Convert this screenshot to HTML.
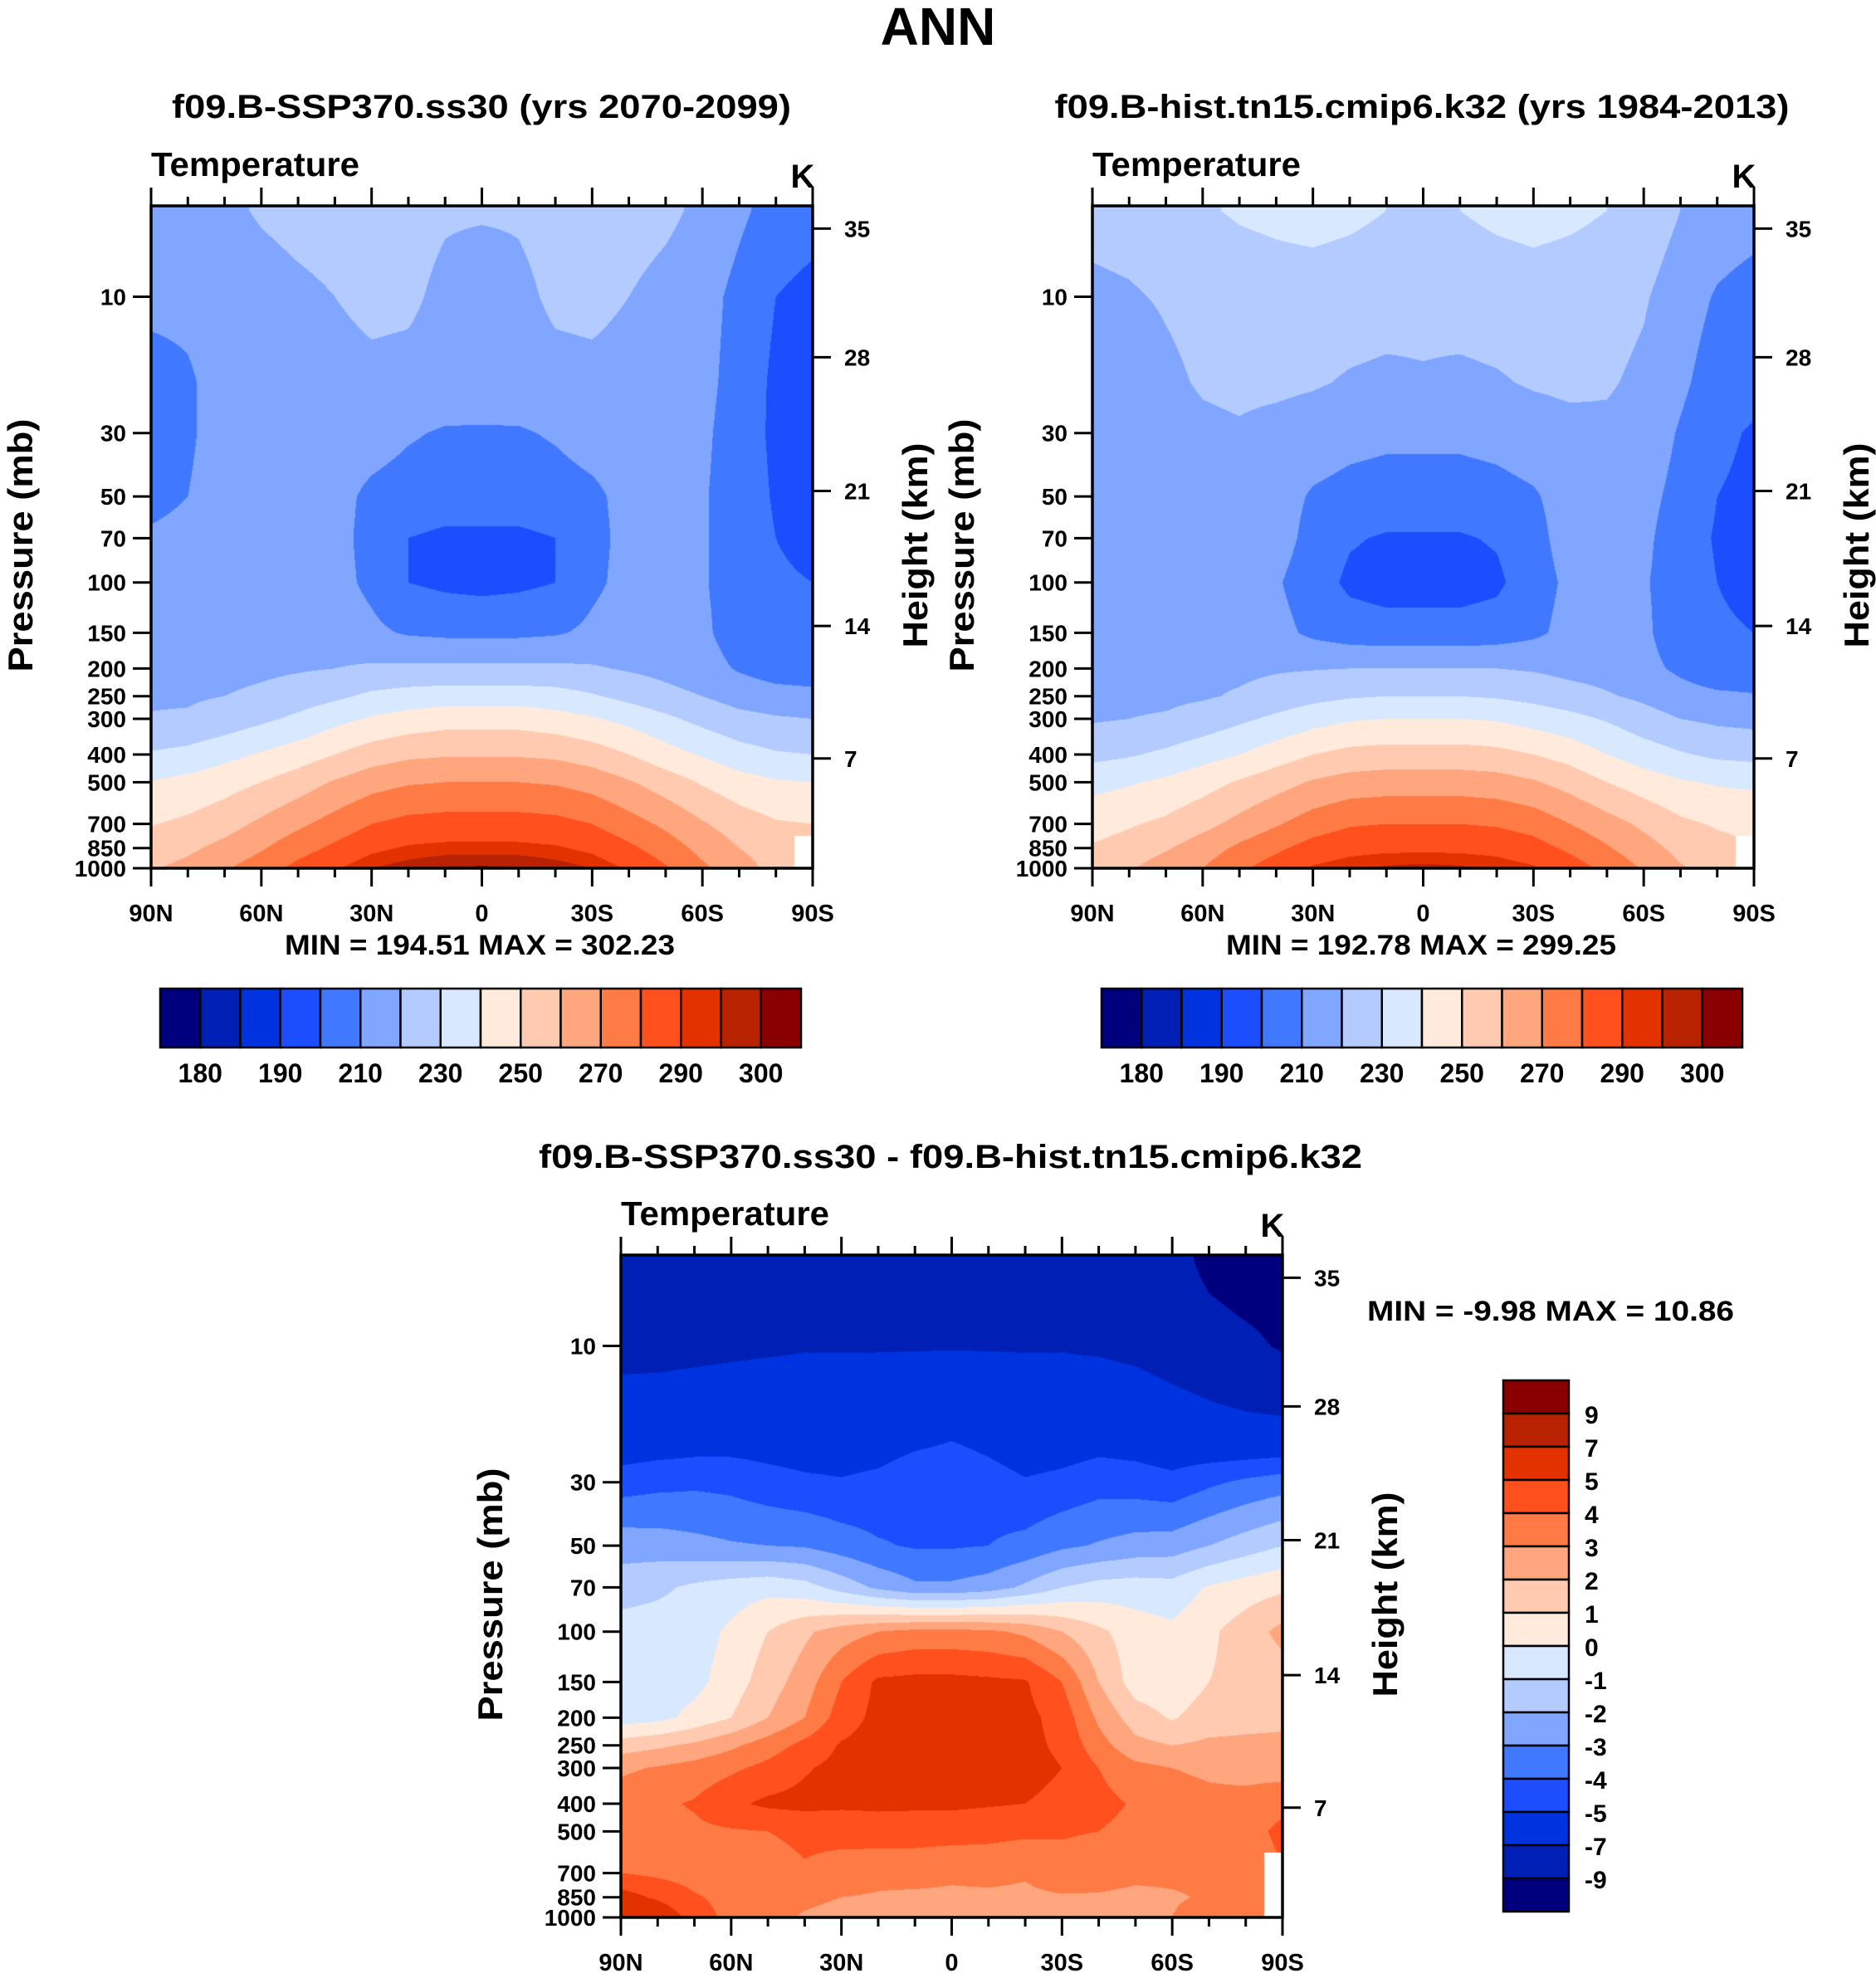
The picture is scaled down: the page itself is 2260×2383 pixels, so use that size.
<!DOCTYPE html>
<html><head><meta charset="utf-8">
<style>
html,body{margin:0;padding:0;background:#fff;}
#root{position:relative;width:2260px;height:2383px;overflow:hidden;}
canvas{position:absolute;}
svg{position:absolute;left:0;top:0;}
text{font-family:"Liberation Sans",Arial,sans-serif;font-weight:bold;fill:#000;}
</style></head>
<body>
<div id="root">
<canvas id="c1"></canvas>
<canvas id="c2"></canvas>
<canvas id="c3"></canvas>
<svg id="s" width="2260" height="2383"></svg>
</div>
<script>
const lats=[90,80,70,60,50,40,30,20,10,0,-10,-20,-30,-40,-50,-60,-70,-80,-90];
const plevs=[5,10,20,30,50,70,100,150,200,250,300,400,500,700,850,1000];
const sspT=[
[215,216,218,221,223,224,224,223,221,221,221,223,224,224,222,218,212,206,204],
[212,212,214,216,218,220,222,221.5,218,215,218,221.5,222,220,217,214,207,200,197],
[207,209,213,215,216,217,218,217.5,216,215,216,217.5,218,217,215,213,206,198,196],
[207,209,213,215,216,215,214,211,209,209,209,211,214,215,215,212,205,198,196],
[208,210,213,215,215,213,208,206,205,205,205,206,208,213,214,211,205,199,197],
[211,212,214,215,215,213,207,200,198,198,198,200,207,213,214,211,205,200,198],
[214,214,215,215,215,213,208,200,198,197,198,200,208,213,214,211,205,201,200],
[216,216,216,216,216,215,212,209,208,208,208,209,212,215,215,212,205,202,201],
[217,217,217,218,219,220,221.5,222,222,222,222,222,221,219,217,214,209,205,204],
[219,219,220,222,225,228,232,234,235,235,235,234,231,227,223,220,216,214,213],
[220.5,221,224,228,232,237,241,244,246,246,246,244,241,237,232,227,223,221,220],
[231,233,237,241,245,250,255,258,259,259,259,258,255,250,244,239,234,231,230],
[240.5,243,246,250,255,261,266,269,270,270,270,269,266,261,255,249,244,241,240],
[249.5,252,256,262,268,274,280,283,284,284,284,283,280,274,268,261,255,251,250],
[254,258,263,269,276,282,288,291,292,292,292,291,288,282,275,267,260,255,null],
[259,263,269,275,283,289,295,298,300.5,301,300.5,298,295,289,281,272,264,257,null]];
const histT=[
[223,224,226,229,231,232,233,232,230,229,230,232,233,232,230,226,220,216,214],
[218,219,221,223,225,226,226,225,224,223,224,225,226,225,224,221,215,209,206],
[212,214,218,221,222,222,221,219,218,219,218,219,221,222,221,218,212,205,203],
[210,212,215,218,219,217,215,213,212,212,212,213,215,217,218,216,209,202,199],
[210,212,215,216,216,214,209,207,206,206,206,207,209,214,216,213,207,200,198],
[212,213,215,216,216,214,207,201,199,199,199,201,207,214,215,212,205,199,197],
[214,214,214,214,214,211,205,198,196,196,196,198,206,212,213,211,205,200,198],
[217,217,216,216,215,213,208,205,204,204,204,205,208,213,215,212,204,201,200],
[218,218,218,218,218,219,219.5,220,220,220,220,220,219,217,216,213,208,203,202],
[218,218,218,219,221,224,227,229,230,230,230,229,227,224,221,218,214,212,211],
[219,220,221,224,228,232,236,239,240,240,240,239,236,233,229,224,220,218,217],
[227,229,232,236,240,245,250,253,254,254,254,253,250,246,240,235,231,228,227],
[237,239,242,246,251,256,261,264,265,265,265,264,261,256,250,245,241,239,238],
[246,249,252,257,263,269,275,279,280,280,280,279,276,270,264,258,252,249,248],
[251,254,259,265,272,278,284,287,288,288,288,287,284,278,271,264,257,253,null],
[255,259,265,270,278,285,291,294,296,297,296,294,291,285,277,269,261,256,null]];
const diffT=[
[-8,-8,-8,-8,-8,-8,-8,-8,-8,-8,-8,-8,-8,-8,-8,-8.3,-9.5,-10,-10],
[-7.5,-7.5,-7.4,-7.3,-7.2,-7.1,-7.1,-7.1,-7.1,-7.1,-7.1,-7.1,-7.1,-7.2,-7.4,-7.8,-8.2,-8.6,-9.2],
[-6,-5.9,-5.8,-5.7,-5.7,-5.8,-5.9,-5.8,-5.5,-5.2,-5.5,-5.9,-5.8,-5.6,-5.7,-6,-6.3,-6.5,-6.5],
[-4.5,-4.3,-4.2,-4.3,-4.6,-4.8,-4.9,-4.7,-4.2,-4.1,-4.5,-4.9,-4.7,-4.4,-4.5,-4.7,-4.2,-3.8,-3.5],
[-2.4,-2.5,-2.7,-2.9,-3.0,-3.1,-3.5,-3.9,-4.1,-4.1,-4.0,-3.7,-3.2,-2.9,-2.6,-2.5,-2.0,-1.5,-1.0],
[-1.5,-1.2,-0.8,-0.5,-0.3,-0.6,-1.4,-2.2,-2.8,-2.8,-2.5,-1.8,-1,-0.6,-0.5,-0.6,0.1,0.5,0.8],
[-0.5,-0.5,-0.5,0.2,1,1.8,2.5,3,3.3,3.3,3.2,2.8,2,1.2,0.5,0.2,0.8,1.5,2.3],
[-0.6,-0.5,-0.3,0.5,1.5,2.5,4,5.2,5.3,5.3,5.2,5.1,4,2,0.5,0.3,1,1.3,1.5],
[-0.5,-0.3,0.3,1,2,3,4.5,5.3,5.5,5.6,5.5,5.3,4.6,2.8,1.5,0.9,1.5,1.7,1.8],
[1.5,1.8,2.2,2.8,3.5,4.3,5.1,5.4,5.5,5.5,5.5,5.3,4.8,3.4,2.3,2,2.2,2.2,2.2],
[2.8,3.1,3.4,3.8,4.3,4.9,5.3,5.4,5.5,5.5,5.5,5.4,5,4,3.3,3,2.8,2.6,2.5],
[3.6,3.8,4.1,4.8,5.2,5.3,5.2,5.2,5.2,5.2,5.1,5,4.7,4.3,3.9,3.5,3.3,3.4,3.8],
[3.6,3.7,3.8,3.9,4,4.2,4.3,4.5,4.4,4.4,4.3,4.2,4.1,4,3.7,3.5,3.4,3.7,4.2],
[4,3.8,3.6,3.5,3.6,3.9,3.6,3.3,3.4,3.2,3.3,3.1,3.6,3.4,3.2,3.2,3.2,3.3,null],
[5.5,4.8,4.1,3.7,3.4,3.2,3,2.9,2.8,2.8,2.8,2.8,2.9,2.9,2.8,2.9,3.1,3.4,null],
[7.3,6,4.5,3.7,3.3,2.9,2.7,2.5,2.4,2.4,2.4,2.3,2.4,2.5,2.5,3,3.5,3.3,null]];
const absLevels=[180,185,190,200,210,220,230,240,250,260,270,280,290,295,300];
const absTickLabels=["180","190","210","230","250","270","290","300"];
const diffLevels=[-9,-7,-5,-4,-3,-2,-1,0,1,2,3,4,5,7,9];
const diffTickLabels=["9","7","5","4","3","2","1","0","-1","-2","-3","-4","-5","-7","-9"];
const presTicks=[10,30,50,70,100,150,200,250,300,400,500,700,850,1000];
const latTicks=[90,60,30,0,-30,-60,-90];
const latTickLabels=["90N","60N","30N","0","30S","60S","90S"];
const heightTicks=[35,28,21,14,7];
const heightFrac=[0.0343,0.2286,0.4305,0.6343,0.8343];
const cols=["#00007f","#0020b5","#0033e0","#1c4eff","#4079ff","#80a6ff","#b3cbff","#d8e9ff","#ffeadb","#ffcab0","#ffa67f","#ff7b46","#ff501e","#e33200","#b82200","#8a0000"];

const lpTop=0.682,lpBot=3;
const W=797,H=798;
function xOf(x0,lat){return x0+(90-lat)/180*W;}
function yOf(y0,p){return y0+(Math.log10(p)-lpTop)/(lpBot-lpTop)*H;}
function hex(c){return [parseInt(c.substr(1,2),16),parseInt(c.substr(3,2),16),parseInt(c.substr(5,2),16)];}
const rgb=cols.map(hex);
const lpl=plevs.map(p=>Math.log10(p));

function drawField(id,x0,y0,grid,levels){
  const cv=document.getElementById(id);
  cv.width=W;cv.height=H;cv.style.left=x0+'px';cv.style.top=y0+'px';
  const ctx=cv.getContext('2d');
  const img=ctx.createImageData(W,H);
  for(let py=0;py<H;py++){
    const lp=lpTop+(py+0.5)/H*(lpBot-lpTop);
    let i=0;while(i<lpl.length-2&&lp>lpl[i+1])i++;
    let fy=(lp-lpl[i])/(lpl[i+1]-lpl[i]);fy=Math.max(0,Math.min(1,fy));
    for(let px=0;px<W;px++){
      const c=(px+0.5)/W*(lats.length-1);
      let j=Math.min(Math.floor(c),lats.length-2);const fx=c-j;
      const corners=[[grid[i][j],(1-fx)*(1-fy)],[grid[i][j+1],fx*(1-fy)],[grid[i+1][j],(1-fx)*fy],[grid[i+1][j+1],fx*fy]];
      let near=corners[0];for(const k of corners)if(k[1]>near[1])near=k;
      const o=(py*W+px)*4;
      if(near[0]===null){img.data[o]=255;img.data[o+1]=255;img.data[o+2]=255;img.data[o+3]=255;continue;}
      let s=0,ws=0;for(const k of corners)if(k[0]!==null){s+=k[0]*k[1];ws+=k[1];}
      const v=s/ws;let idx=0;while(idx<levels.length&&v>=levels[idx])idx++;
      const col=rgb[idx];
      img.data[o]=col[0];img.data[o+1]=col[1];img.data[o+2]=col[2];img.data[o+3]=255;
    }
  }
  ctx.putImageData(img,0,0);
}
const NS="http://www.w3.org/2000/svg";
const svg=document.getElementById('s');
function el(tag,attrs,parent){const e=document.createElementNS(NS,tag);for(const k in attrs)e.setAttribute(k,attrs[k]);(parent||svg).appendChild(e);return e;}
function txt(str,x,y,size,anchor,extra){const t=el('text',Object.assign({x:x,y:y,'font-size':size,'text-anchor':anchor||'start'},extra||{}));t.textContent=str;return t;}

function axes(x0,y0,cond){
  const g=el('g',{});
  
  
  const fr=el('rect',{x:x0,y:y0,width:W,height:H,fill:'none',stroke:'#000','stroke-width':3.5},g);
  
  
  for(let lat=90;lat>=-90;lat-=10){
    const x=xOf(x0,lat);const major=(lat%30===0);const L=major?22:11;
    el('line',{x1:x,y1:y0,x2:x,y2:y0-L,stroke:'#000','stroke-width':3},g);
    el('line',{x1:x,y1:y0+H,x2:x,y2:y0+H+L,stroke:'#000','stroke-width':3},g);
  }
  latTicks.forEach((lat,k)=>{
    const t=txt(latTickLabels[k],xOf(x0,lat),y0+H+64,29,'middle');
    
    
  });
  presTicks.forEach(p=>{
    const y=yOf(y0,p);
    el('line',{x1:x0,y1:y,x2:x0-22,y2:y,stroke:'#000','stroke-width':3},g);
    const t=txt(String(p),x0-30,y+10,28,'end');
    
    
  });
  heightTicks.forEach((h,k)=>{
    const y=y0+heightFrac[k]*H;
    el('line',{x1:x0+W,y1:y,x2:x0+W+22,y2:y,stroke:'#000','stroke-width':3},g);
    const t=txt(String(h),x0+W+38,y+10,28,'start');
    
    
  });
  const tt=txt('Temperature',x0,y0-36,41,'start',{textLength:251,lengthAdjust:'spacingAndGlyphs'});
  
  
  const kk=txt('K',x0+W-12,y0-22,40,'middle');
  
  
  const py=y0+H/2+10;
  const pl=txt('Pressure (mb)',x0-143,py,42,'middle',{transform:`rotate(-90 ${x0-143} ${py})`,textLength:305,lengthAdjust:'spacingAndGlyphs'});
  
  
  const hx=x0+W+138;
  const hl=txt('Height (km)',hx,py,42,'middle',{transform:`rotate(-90 ${hx} ${py})`,textLength:247,lengthAdjust:'spacingAndGlyphs'});
  
  
}
function hbar(x0,y0){
  const bw=772/16;
  cols.forEach((c,k)=>{
    const r=el('rect',{x:x0+k*bw,y:y0,width:bw,height:71,fill:c,stroke:'#000','stroke-width':2.5});
    
    
  });
  absTickLabels.forEach((l,k)=>{
    const t=txt(l,x0+(2*k+1)*bw,y0+113,32,'middle');
    
    
  });
}
function vbar(x0,y0){
  const bh=40;
  for(let k=0;k<16;k++){
    const r=el('rect',{x:x0,y:y0+k*bh,width:79,height:bh,fill:cols[15-k],stroke:'#000','stroke-width':2.5});
    
    
  }
  diffTickLabels.forEach((l,k)=>{
    const t=txt(l,x0+98,y0+(k+1)*bh+12,30,'start');
    
    
  });
}
const P1=[182,248],P2=[1316,248],P3=[748,1512];
drawField('c1',P1[0],P1[1],sspT,absLevels);
drawField('c2',P2[0],P2[1],histT,absLevels);
drawField('c3',P3[0],P3[1],diffT,diffLevels);
const ann=txt('ANN',1130,54,64,'middle');


const t1=txt('f09.B-SSP370.ss30 (yrs 2070-2099)',580,142,40,'middle',{textLength:746,lengthAdjust:'spacingAndGlyphs'});


const t2=txt('f09.B-hist.tn15.cmip6.k32 (yrs 1984-2013)',1713,142,40,'middle',{textLength:885,lengthAdjust:'spacingAndGlyphs'});


const t3=txt('f09.B-SSP370.ss30 - f09.B-hist.tn15.cmip6.k32',1145,1407,40,'middle',{textLength:992,lengthAdjust:'spacingAndGlyphs'});


axes(P1[0],P1[1],false);
axes(P2[0],P2[1],false);
axes(P3[0],P3[1],true);
const m1=txt('MIN = 194.51   MAX = 302.23',578,1150,34,'middle',{textLength:470,lengthAdjust:'spacingAndGlyphs'});


const m2=txt('MIN = 192.78   MAX = 299.25',1712,1150,34,'middle',{textLength:470,lengthAdjust:'spacingAndGlyphs'});


const m3=txt('MIN =  -9.98  MAX =  10.86',1868,1591,34,'middle',{textLength:442,lengthAdjust:'spacingAndGlyphs'});


hbar(193,1191);
hbar(1327,1191);
vbar(1811,1663);
</script>
</body></html>
